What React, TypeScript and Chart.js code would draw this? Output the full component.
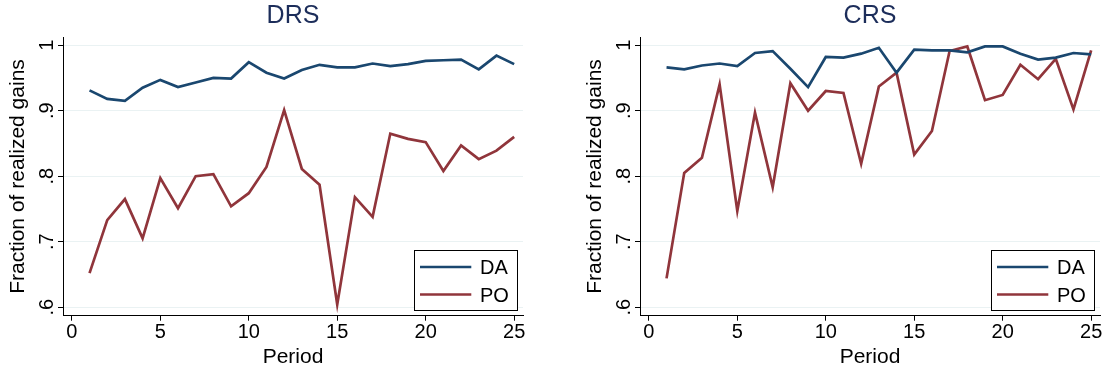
import React, { useEffect, useRef } from "react";
import { Chart, registerables } from "chart.js";

Chart.register(...registerables);

const FONT = "'Liberation Sans', Arial, Helvetica, sans-serif";

const periods = [1, 2, 3, 4, 5, 6, 7, 8, 9, 10, 11, 12, 13, 14, 15, 16, 17, 18, 19, 20, 21, 22, 23, 24, 25];

const drsDA = [0.931, 0.918, 0.915, 0.935, 0.947, 0.936, 0.943, 0.95, 0.949, 0.974, 0.958, 0.949, 0.962, 0.97, 0.966, 0.966, 0.972, 0.968, 0.971, 0.976, 0.977, 0.978, 0.963, 0.984, 0.971];
const drsPO = [0.652, 0.733, 0.765, 0.705, 0.797, 0.751, 0.8, 0.803, 0.754, 0.774, 0.814, 0.901, 0.811, 0.787, 0.604, 0.768, 0.738, 0.865, 0.857, 0.852, 0.808, 0.847, 0.826, 0.839, 0.86];

const crsDA = [0.966, 0.963, 0.969, 0.972, 0.968, 0.988, 0.991, 0.964, 0.936, 0.982, 0.981, 0.987, 0.996, 0.958, 0.993, 0.992, 0.992, 0.989, 0.998, 0.998, 0.987, 0.978, 0.981, 0.988, 0.986];
const crsPO = [0.644, 0.805, 0.828, 0.94, 0.747, 0.897, 0.783, 0.942, 0.9, 0.93, 0.927, 0.819, 0.937, 0.958, 0.833, 0.869, 0.991, 0.998, 0.916, 0.924, 0.97, 0.948, 0.979, 0.902, 0.992];

const seriesLabels = ["DA", "PO"];
const seriesColors = ["#1a476f", "#90353b"];

const xTicks = [0, 5, 10, 15, 20, 25];
const xTickLabels = ["0", "5", "10", "15", "20", "25"];
const yTicks = [0.6, 0.7, 0.8, 0.9, 1];
const yTickLabels = [".6", ".7", ".8", ".9", "1"];

const boxLegend = {
  id: "boxLegend",
  afterDatasetsDraw(chart: any) {
    const { ctx, chartArea } = chart;
    const w = 104;
    const h = 61;
    const right = chartArea.right - 4.7;
    const bottom = chartArea.bottom - 4.7;
    const left = right - w;
    const top = bottom - h;
    ctx.save();
    ctx.fillStyle = "#ffffff";
    ctx.fillRect(left, top, w, h);
    ctx.strokeStyle = "#000000";
    ctx.lineWidth = 1;
    ctx.strokeRect(Math.round(left) + 0.5, Math.round(top) + 0.5, w - 1, h - 1);
    chart.data.datasets.forEach((ds: any, i: number) => {
      const y = top + 17 + i * 27.5;
      ctx.strokeStyle = ds.borderColor;
      ctx.lineWidth = ds.borderWidth;
      ctx.beginPath();
      ctx.moveTo(left + 5.7, y);
      ctx.lineTo(left + 57, y);
      ctx.stroke();
      ctx.fillStyle = "#000000";
      ctx.font = `20px ${FONT}`;
      ctx.textBaseline = "alphabetic";
      ctx.textAlign = "left";
      ctx.fillText(ds.label, left + 65.7, y + 7.2);
    });
    ctx.restore();
  },
};

function Panel(props: { title: string; da: number[]; po: number[]; left: number; width: number; padRight: number }) {
  const ref = useRef<HTMLCanvasElement | null>(null);
  useEffect(() => {
    if (!ref.current) return;
    const series = [props.da, props.po];
    const chart = new Chart(ref.current, {
      type: "line",
      data: {
        datasets: series.map((s, k) => ({
          label: seriesLabels[k],
          data: periods.map((p, i) => ({ x: p, y: s[i] })),
          borderColor: seriesColors[k],
          backgroundColor: seriesColors[k],
          borderWidth: 2.7,
          pointRadius: 0,
          tension: 0,
          fill: false,
        })),
      },
      options: {
        responsive: false,
        animation: false,
        devicePixelRatio: 1,
        layout: { padding: { left: 0, right: props.padRight, top: 0, bottom: 0 } },
        plugins: {
          legend: { display: false },
          tooltip: { enabled: false },
          title: {
            display: true,
            text: props.title,
            color: "#1c2d5a",
            font: { size: 25, family: FONT, weight: "normal" },
            padding: { top: 1.5, bottom: 5.8 },
            fullSize: false,
          } as any,
        },
        scales: {
          x: {
            type: "linear",
            min: -0.5,
            max: 25.5,
            afterBuildTicks: (s: any) => {
              s.ticks = xTicks.map((v) => ({ value: v }));
            },
            afterFit: (s: any) => {
              s.height = 58.3;
            },
            ticks: {
              color: "#000",
              font: { size: 20, family: FONT },
              padding: 0,
              minRotation: 0,
              maxRotation: 0,
              callback: (_v: any, i: number) => xTickLabels[i],
            },
            grid: { drawOnChartArea: false, color: "#000", tickColor: "#000", tickLength: 5, lineWidth: 1 },
            border: { display: true, color: "#000", width: 1 },
            title: {
              display: true,
              text: "Period",
              color: "#000",
              font: { size: 21, family: FONT },
              padding: { top: 0, bottom: 4 },
            },
          },
          y: {
            type: "linear",
            min: 0.587,
            max: 1.012,
            afterBuildTicks: (s: any) => {
              s.ticks = yTicks.map((v) => ({ value: v }));
            },
            afterFit: (s: any) => {
              s.width = 63;
            },
            ticks: {
              color: "#000",
              font: { size: 20, family: FONT },
              padding: 2,
              minRotation: 90,
              maxRotation: 90,
              crossAlign: "center",
              callback: (_v: any, i: number) => yTickLabels[i],
            },
            grid: { color: "#eaf2f3", tickColor: "#000", tickLength: 5, lineWidth: 1 },
            border: { display: true, color: "#000", width: 1 },
            title: {
              display: true,
              text: "Fraction of realized gains",
              color: "#000",
              font: { size: 21, family: FONT },
              padding: { top: 6, bottom: 0 },
            },
          },
        },
      } as any,
      plugins: [boxLegend],
    });
    return () => chart.destroy();
  }, []);
  return (
    <canvas
      ref={ref}
      width={props.width}
      height={374}
      style={{ position: "absolute", left: props.left, top: 0, width: props.width, height: 374 }}
    />
  );
}

export default function App() {
  return (
    <div style={{ position: "fixed", left: 0, top: 0, width: 1112, height: 374, background: "#fff", overflow: "hidden" }}>
      <Panel title="DRS" da={drsDA} po={drsPO} left={0} width={556} padRight={33} />
      <Panel title="CRS" da={crsDA} po={crsPO} left={577} width={535} padRight={12} />
    </div>
  );
}
